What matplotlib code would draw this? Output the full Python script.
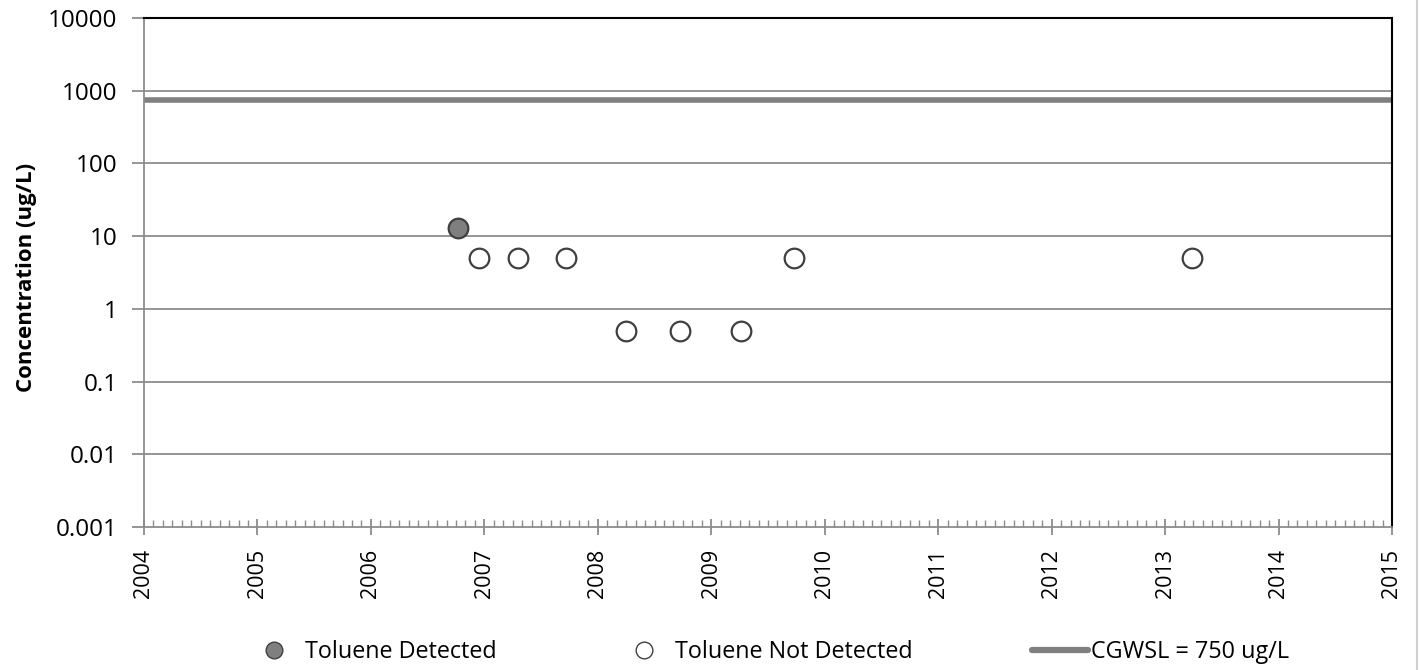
import matplotlib
matplotlib.use("Agg")
import matplotlib.pyplot as plt
from matplotlib.ticker import FixedLocator, FixedFormatter, MultipleLocator
from matplotlib.lines import Line2D

plt.rcParams['font.family'] = ['Open Sans', 'DejaVu Sans']

det_dates = [2006.77]
det_vals = [13]
nd_dates = [2006.95, 2007.30, 2007.72, 2008.25, 2008.72, 2009.26, 2009.73, 2013.24]
nd_vals = [5, 5, 5, 0.5, 0.5, 0.5, 5, 5]
cgwsl = 750
years = list(range(2004, 2016))
yticks = [0.001, 0.01, 0.1, 1, 10, 100, 1000, 10000]
ylabels = ['0.001', '0.01', '0.1', '1', '10', '100', '1000', '10000']

fig = plt.figure(figsize=(14.19, 6.70), dpi=100)
ax = fig.add_axes([144/1419, 1-527/670, (1392-144)/1419, (527-18)/670])
ax.set_yscale('log')
ax.set_xlim(2004, 2015)
ax.set_ylim(0.001, 10000)

for t in yticks[1:]:
    ax.axhline(t, color='#8c8c8c', lw=1.3, zorder=1)
ax.axhline(cgwsl, color='#808080', lw=4, zorder=2)

ax.scatter(det_dates, det_vals, s=200, facecolor='#7f7f7f', edgecolor='#404040', lw=1.6, zorder=4)
ax.scatter(nd_dates, nd_vals, s=200, facecolor='white', edgecolor='#404040', lw=1.6, zorder=4)

ax.yaxis.set_major_locator(FixedLocator(yticks))
ax.yaxis.set_major_formatter(FixedFormatter(ylabels))
ax.yaxis.set_minor_locator(FixedLocator([]))
ax.set_xticks(years)
ax.set_xticklabels([str(y) for y in years], rotation=90)
ax.xaxis.set_minor_locator(MultipleLocator(1/12))
ax.tick_params(axis='x', which='major', direction='inout', length=12, width=1.3, color='#8c8c8c', labelsize=15.5, pad=10)
ax.tick_params(axis='x', which='minor', direction='in', length=5, width=1, color='#8c8c8c')
ax.tick_params(axis='y', which='major', direction='out', length=9, width=1.3, color='#8c8c8c', labelsize=17.5, pad=10)

ax.spines['left'].set_color('#8c8c8c')
ax.spines['left'].set_linewidth(1.3)
ax.spines['bottom'].set_color('#8c8c8c')
ax.spines['bottom'].set_linewidth(1.3)
ax.spines['top'].set_color('black')
ax.spines['right'].set_color('black')
ax.spines['top'].set_linewidth(1.5)
ax.spines['right'].set_linewidth(1.5)

ax.set_ylabel('Concentration (ug/L)', fontsize=16, fontweight='bold')
ax.yaxis.set_label_coords(-0.086, 0.49)

handles = [
    Line2D([], [], ls='none', marker='o', ms=12, mfc='#7f7f7f', mec='#404040', mew=1),
    Line2D([], [], ls='none', marker='o', ms=12, mfc='white', mec='#404040', mew=1),
    Line2D([], [], color='#808080', lw=4.5, solid_capstyle='round'),
]
fig.legend(handles, ['Toluene Detected', 'Toluene Not Detected', 'CGWSL = 750 ug/L'],
           loc='center', bbox_to_anchor=(0.541, 1-652/670), ncol=3, frameon=False,
           fontsize=16.8, columnspacing=5.1, handlelength=2.4, handletextpad=0.15)

fig.add_artist(Line2D([1417/1419, 1417/1419], [0, 1], color='#d0d0d0', lw=1.5))

fig.savefig('out.png', dpi=100)
